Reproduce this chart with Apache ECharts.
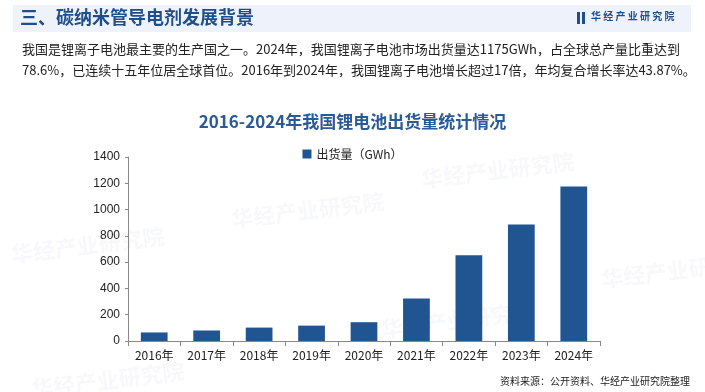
<!DOCTYPE html>
<html><head><meta charset="utf-8">
<script src="https://cdn.jsdelivr.net/npm/echarts@6/dist/echarts.min.js"></script>
<style>html,body{margin:0;padding:0;background:#fff}#c{width:705px;height:392px}</style>
</head><body><div id="c"></div>
<script>
const categories = ['2016年','2017年','2018年','2019年','2020年','2021年','2022年','2023年','2024年'];
const shipments = [65, 80, 102, 117, 143, 324, 652, 887, 1175];
const yTicks = [0, 200, 400, 600, 800, 1000, 1200, 1400];
const seriesName = '出货量（GWh）';

const chart = echarts.init(document.getElementById('c'));
const font = '"Noto Sans CJK SC", "Microsoft YaHei", sans-serif';
const wm = (x, y) => ({type:'text', left:x, top:y, rotation:0.12, z:-1,
  style:{text:'华经产业研究院', fill:'rgba(60,100,160,0.045)', font:'bold 22px ' + font}});
chart.setOption({
  animation:false,
  graphic:[
    {type:'rect', shape:{x:13, y:5, width:678, height:27}, style:{fill:'#eef3fb'}, z:-2},
    {type:'text', left:20, top:8, style:{text:'三、碳纳米管导电剂发展背景', fill:'#1f4e8c', font:'bold 18px ' + font}},
    {type:'rect', shape:{x:577, y:12, width:3, height:12}, style:{fill:'#1f4e8c'}},
    {type:'rect', shape:{x:582, y:12, width:3, height:12}, style:{fill:'#1f4e8c'}},
    {type:'text', left:591, top:11, style:{text:'华 经 产 业 研 究 院', fill:'#1f4e8c', font:'bold 10px ' + font}},
    {type:'text', left:22, top:43, style:{text:'我国是锂离子电池最主要的生产国之一。2024年，我国锂离子电池市场出货量达1175GWh，占全球总产量比重达到', fill:'#222', font:'13px ' + font}},
    {type:'text', left:22, top:64, style:{text:'78.6%，已连续十五年位居全球首位。2016年到2024年，我国锂离子电池增长超过17倍，年均复合增长率达43.87%。', fill:'#222', font:'13px ' + font}},
    {type:'text', right:15, top:376, style:{text:'资料来源：公开资料、华经产业研究院整理', fill:'#222', font:'10px ' + font}},
    wm(230, 190), wm(420, 150), wm(10, 225), wm(380, 300), wm(600, 250), wm(30, 360)
  ],
  title:{text:'2016-2024年我国锂电池出货量统计情况', left:'center', top:108,
    textStyle:{color:'#2a5a97', fontSize:17, fontWeight:'bold', fontFamily:font}},
  legend:{top:143, left:'center', itemWidth:9, itemHeight:9, icon:'rect',
    textStyle:{color:'#222', fontSize:12, fontFamily:font}},
  grid:{left:128, right:105, top:157, bottom:51},
  xAxis:{type:'category', data:categories,
    axisLine:{lineStyle:{color:'#888'}},
    axisTick:{show:true, alignWithLabel:false, length:5, lineStyle:{color:'#888'}},
    axisLabel:{color:'#222', fontSize:12, margin:8, fontFamily:font}},
  yAxis:{type:'value', min:yTicks[0], max:yTicks[yTicks.length-1], interval:200,
    axisLine:{show:true, lineStyle:{color:'#888'}},
    axisTick:{show:true, length:3, lineStyle:{color:'#888'}},
    splitLine:{show:false},
    axisLabel:{color:'#222', fontSize:12, fontFamily:'Arial, "Liberation Sans", sans-serif', margin:8,
      formatter: v => String(v)}},
  series:[{name:seriesName, type:'bar', data:shipments, barWidth:'51%',
    itemStyle:{color:'#215592'}}]
});
</script></body></html>
